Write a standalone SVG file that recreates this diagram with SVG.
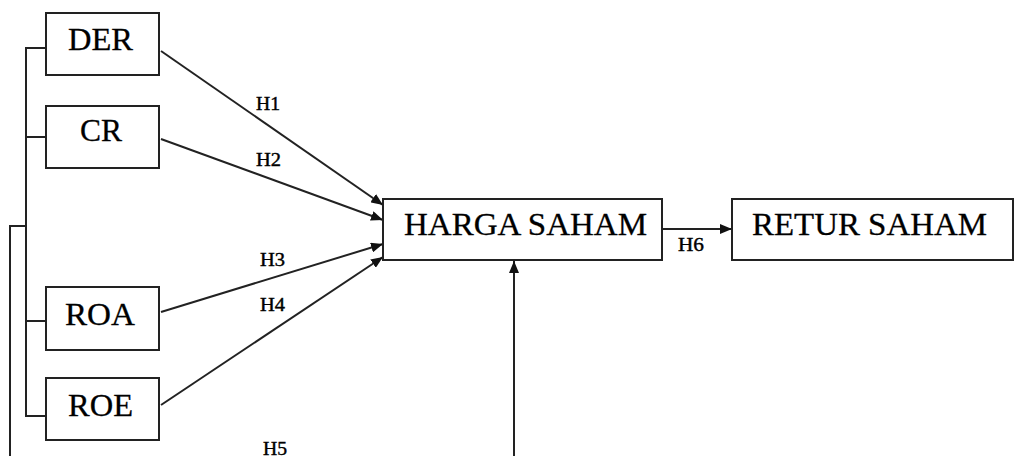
<svg xmlns="http://www.w3.org/2000/svg" width="1014" height="456" viewBox="0 0 1014 456">
<style>
.box{fill:#fff;stroke:#222;stroke-width:2}
.lbl{font-family:"Liberation Serif",serif;font-size:32px;fill:#000;stroke:#000;stroke-width:0.3}
.h{font-family:"Liberation Serif",serif;font-size:18px;fill:#000;stroke:#000;stroke-width:0.4}
.ln{fill:none;stroke:#222;stroke-width:2}
.arr{fill:none;stroke:#222;stroke-width:2;marker-end:url(#ah)}
</style>
<defs>
<marker id="ah" markerUnits="userSpaceOnUse" markerWidth="12" markerHeight="10" refX="12" refY="5" orient="auto">
<path d="M0,0 L12,5 L0,10 z" fill="#111"/>
</marker>
</defs>
<rect width="1014" height="456" fill="#fff"/>
<g id="connectors">
<polyline class="ln" points="46,48 26,48 26,416 46,416"/>
<line class="ln" x1="26" y1="137" x2="46" y2="137"/>
<line class="ln" x1="26" y1="321" x2="46" y2="321"/>
<polyline class="ln" points="26,226 10,226 10,456"/>
<line class="arr" x1="161" y1="51" x2="383" y2="205"/>
<line class="arr" x1="161" y1="139" x2="383" y2="220"/>
<line class="arr" x1="161" y1="312" x2="383" y2="244"/>
<line class="arr" x1="161" y1="405" x2="383" y2="257"/>
<line class="arr" x1="662" y1="229" x2="732" y2="229"/>
<line class="arr" x1="514" y1="456" x2="514" y2="261"/>
<text class="h" x="256" y="110" textLength="24" lengthAdjust="spacingAndGlyphs">H1</text>
<text class="h" x="256" y="166" textLength="25" lengthAdjust="spacingAndGlyphs">H2</text>
<text class="h" x="260" y="266" textLength="25" lengthAdjust="spacingAndGlyphs">H3</text>
<text class="h" x="260" y="311" textLength="25" lengthAdjust="spacingAndGlyphs">H4</text>
<text class="h" x="263" y="455" textLength="24" lengthAdjust="spacingAndGlyphs">H5</text>
<text class="h" x="678" y="251" textLength="26" lengthAdjust="spacingAndGlyphs">H6</text>
</g>
<g id="der"><rect class="box" x="46" y="13" width="113" height="62"/><text class="lbl" x="68" y="50" textLength="65" lengthAdjust="spacingAndGlyphs">DER</text></g>
<g id="cr"><rect class="box" x="46" y="106" width="113" height="62"/><text class="lbl" x="80" y="141" textLength="42" lengthAdjust="spacingAndGlyphs">CR</text></g>
<g id="roa"><rect class="box" x="46" y="287" width="113" height="63"/><text class="lbl" x="65" y="325" textLength="70" lengthAdjust="spacingAndGlyphs">ROA</text></g>
<g id="roe"><rect class="box" x="46" y="378" width="113" height="62"/><text class="lbl" x="68" y="416" textLength="65" lengthAdjust="spacingAndGlyphs">ROE</text></g>
<g id="harga"><rect class="box" x="383" y="199" width="279" height="61"/><text class="lbl" x="404" y="235" textLength="243" lengthAdjust="spacingAndGlyphs">HARGA SAHAM</text></g>
<g id="retur"><rect class="box" x="732" y="199" width="281" height="61"/><text class="lbl" x="752" y="235" textLength="235" lengthAdjust="spacingAndGlyphs">RETUR SAHAM</text></g>
</svg>
